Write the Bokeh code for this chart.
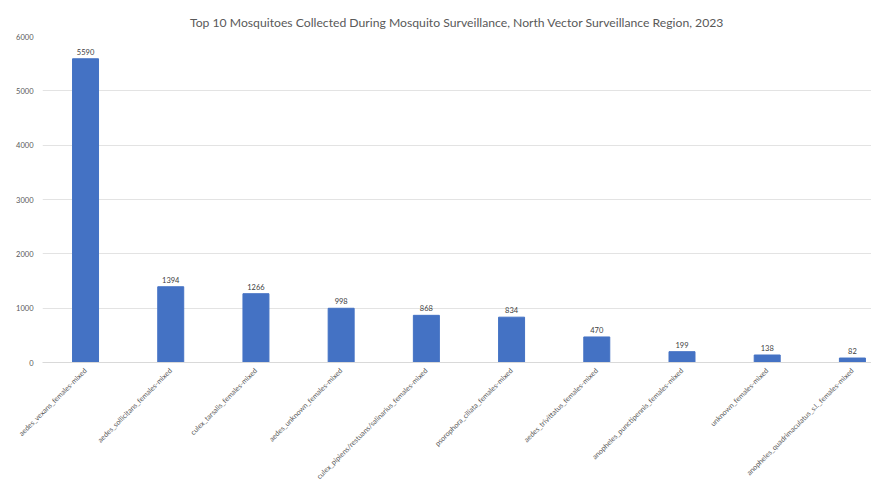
import math
from bokeh.plotting import figure
from bokeh.models import Range1d, FixedTicker, ColumnDataSource
from bokeh.core.properties import value
from bokeh.embed import file_html
from bokeh.resources import INLINE

species = [
    "aedes_vexans_females-mixed",
    "aedes_sollicitans_females-mixed",
    "culex_tarsalis_females-mixed",
    "aedes_unknown_females-mixed",
    "culex_pipiens/restuans/salinarius_females-mixed",
    "psorophora_ciliata_females-mixed",
    "aedes_trivittatus_females-mixed",
    "anopheles_punctipennis_females-mixed",
    "unknown_females-mixed",
    "anopheles_quadrimaculatus_s.l._females-mixed",
]
counts = [5590, 1394, 1266, 998, 868, 834, 470, 199, 138, 82]
y_ticks = [0, 1000, 2000, 3000, 4000, 5000, 6000]

pos = [i + 0.5 for i in range(len(species))]
src = ColumnDataSource(dict(x=pos, top=counts, lab=[str(c) for c in counts]))

FONT = "Lato"
p = figure(width=871, height=487, output_backend="svg", toolbar_location=None,
           x_range=Range1d(-0.005, 9.724), y_range=Range1d(0, 6000),
           title="Top 10 Mosquitoes Collected During Mosquito Surveillance, North Vector Surveillance Region, 2023",
           min_border_left=42, min_border_right=0, min_border_top=36, min_border_bottom=0)
p.outline_line_color = None
p.title.align = "center"
p.title.vertical_align = "top"
p.title.text_font = FONT
p.title.text_font_size = "12.2px"
p.title.text_font_style = "normal"
p.title.text_color = "#595959"

p.vbar(x="x", top="top", width=0.305, bottom=0, source=src, fill_color="#4472C4", line_color="#4472C4")
p.text(x="x", y="top", text="lab", source=src, text_align="center", text_baseline="bottom",
       y_offset=-4, text_font=value(FONT), text_font_size="7.5px", text_color="#404040")

p.xaxis.ticker = FixedTicker(ticks=pos)
p.xaxis.major_label_overrides = {x: s for x, s in zip(pos, species)}
p.xaxis.major_label_orientation = math.pi / 4
p.xaxis.major_tick_line_color = None
p.xaxis.minor_tick_line_color = None
p.xaxis.axis_line_color = "#d9d9d9"
p.xaxis.major_label_text_font = FONT
p.xaxis.major_label_text_font_size = "7.2px"
p.xaxis.major_label_text_color = "#595959"
p.xaxis.major_label_standoff = 1

p.yaxis.ticker = FixedTicker(ticks=y_ticks)
p.yaxis.axis_line_color = None
p.yaxis.major_tick_line_color = None
p.yaxis.minor_tick_line_color = None
p.yaxis.major_label_text_font = FONT
p.yaxis.major_label_text_font_size = "7.5px"
p.yaxis.major_label_text_color = "#595959"
p.yaxis.major_label_standoff = 3

p.xgrid.grid_line_color = None
p.ygrid.grid_line_color = "#e3e3e3"
p.ygrid.ticker = FixedTicker(ticks=y_ticks)

open("out.html", "w").write(file_html(p, INLINE))
